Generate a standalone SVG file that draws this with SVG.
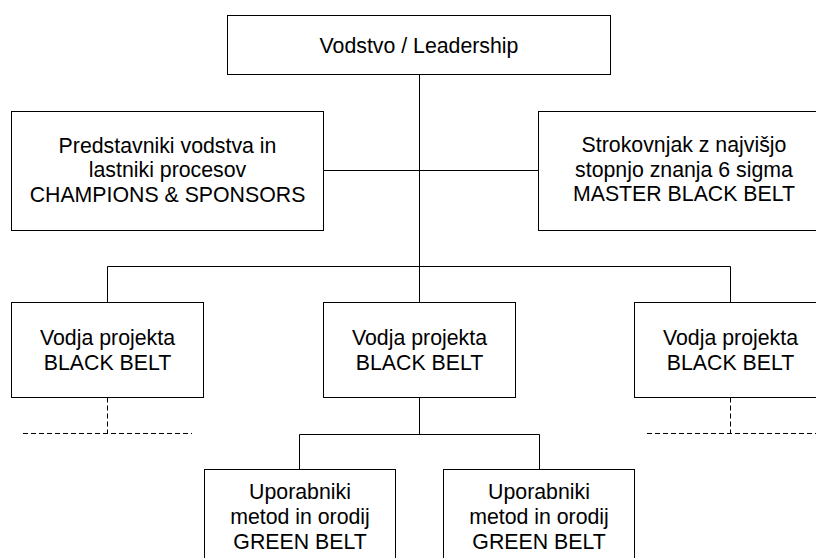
<svg xmlns="http://www.w3.org/2000/svg" width="816" height="558" viewBox="0 0 816 558">
  <style>
    .box { fill: #ffffff; stroke: #000000; stroke-width: 1; }
    .link { fill: none; stroke: #000000; stroke-width: 1; }
    .dash { fill: none; stroke: #000000; stroke-width: 1; stroke-dasharray: 5 3; }
    .lbl { font-family: "Liberation Sans", Arial, sans-serif; font-size: 21.3px; fill: #000000; text-anchor: middle; }
  </style>
  <rect width="816" height="558" fill="#ffffff"/>

  <!-- connectors -->
  <g id="connectors">
    <path class="link" d="M419.5 74.5 V302.5"/>
    <path class="link" d="M323.5 170.5 H538.5"/>
    <path class="link" d="M107.5 302.5 V266.5 H730.5 V302.5"/>
    <path class="link" d="M419.5 397.5 V434.5"/>
    <path class="link" d="M299.5 469.5 V434.5 H539.5 V469.5"/>
    <path class="dash" d="M107.5 397.5 V433.5"/>
    <path class="dash" d="M23 433.5 H192"/>
    <path class="dash" d="M730.5 397.5 V433.5"/>
    <path class="dash" d="M647 433.5 H816"/>
  </g>

  <g id="leadership">
    <rect class="box" x="227.5" y="15.5" width="383" height="59"/>
    <text class="lbl" x="419" y="52.5">Vodstvo / Leadership</text>
  </g>

  <g id="champions">
    <rect class="box" x="11.5" y="111.5" width="312" height="119"/>
    <text class="lbl" x="167.5" y="153">Predstavniki vodstva in</text>
    <text class="lbl" x="167.5" y="177.3">lastniki procesov</text>
    <text class="lbl" x="167.5" y="201.6">CHAMPIONS &amp; SPONSORS</text>
  </g>

  <g id="master-black-belt">
    <rect class="box" x="538.5" y="111.5" width="291" height="119"/>
    <text class="lbl" x="684" y="152.3">Strokovnjak z najvišjo</text>
    <text class="lbl" x="684" y="176.6">stopnjo znanja 6 sigma</text>
    <text class="lbl" x="684" y="200.9">MASTER BLACK BELT</text>
  </g>

  <g id="black-belt-left">
    <rect class="box" x="11.5" y="302.5" width="192" height="95"/>
    <text class="lbl" x="107.5" y="345.3">Vodja projekta</text>
    <text class="lbl" x="107.5" y="369.8">BLACK BELT</text>
  </g>

  <g id="black-belt-center">
    <rect class="box" x="323.5" y="302.5" width="192" height="95"/>
    <text class="lbl" x="419.5" y="345.3">Vodja projekta</text>
    <text class="lbl" x="419.5" y="369.8">BLACK BELT</text>
  </g>

  <g id="black-belt-right">
    <rect class="box" x="634.5" y="302.5" width="192" height="95"/>
    <text class="lbl" x="730.5" y="345.3">Vodja projekta</text>
    <text class="lbl" x="730.5" y="369.8">BLACK BELT</text>
  </g>

  <g id="green-belt-left">
    <rect class="box" x="204.5" y="469.5" width="191" height="100"/>
    <text class="lbl" x="300" y="499.3">Uporabniki</text>
    <text class="lbl" x="300" y="524">metod in orodij</text>
    <text class="lbl" x="300" y="548.6">GREEN BELT</text>
  </g>

  <g id="green-belt-right">
    <rect class="box" x="443.5" y="469.5" width="191" height="100"/>
    <text class="lbl" x="539" y="499.3">Uporabniki</text>
    <text class="lbl" x="539" y="524">metod in orodij</text>
    <text class="lbl" x="539" y="548.6">GREEN BELT</text>
  </g>
</svg>
